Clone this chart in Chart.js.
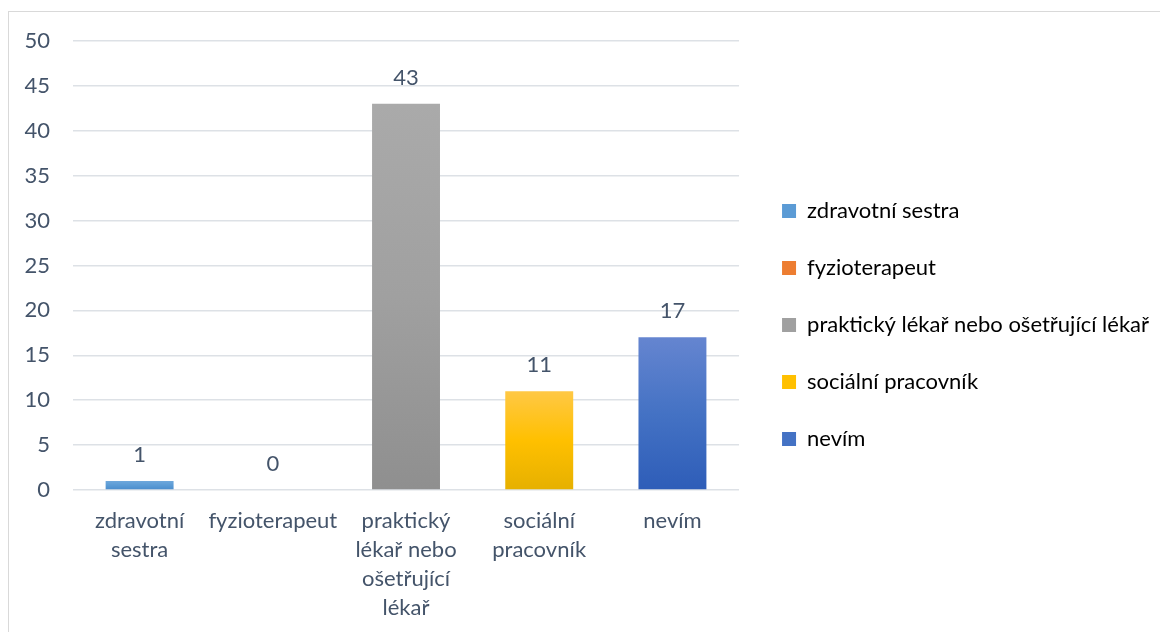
<!DOCTYPE html>
<html lang="cs">
<head>
<meta charset="UTF-8">
<title>Graf</title>
<script src="https://cdn.jsdelivr.net/npm/chart.js"></script>
<style>
    body { margin: 0; background: #fff; overflow: hidden; }
    .ramecek {
        position: absolute; left: 8px; top: 11px;
        width: 1160px; height: 630px;
        border: 1px solid #d9d9d9; box-sizing: border-box;
    }
    .platno { width: 1150px; height: 628px; }
    .platno canvas { display: block; }
</style>
</head>
<body>
<div class="ramecek">
    <div class="platno"><canvas id="graf"></canvas></div>
</div>
<script>
    const kategorie = ['zdravotní sestra', 'fyzioterapeut', 'praktický lékař nebo ošetřující lékař', 'sociální pracovník', 'nevím'];
    const popisky = [['zdravotní', 'sestra'], ['fyzioterapeut'], ['praktický', 'lékař nebo', 'ošetřující', 'lékař'], ['sociální', 'pracovník'], ['nevím']];
    const hodnoty = [1, 0, 43, 11, 17];
    const osaY = [0, 5, 10, 15, 20, 25, 30, 35, 40, 45, 50];

    // barvy: [nahore, stred, dole]
    const barvy = [
        ['#6fa8dc', '#5b9bd5', '#4a8ccc'],
        ['#f29a5c', '#ed7d31', '#d96a1f'],
        ['#aaaaaa', '#a0a0a0', '#8f8f8f'],
        ['#ffc845', '#ffc000', '#e6b000'],
        ['#6585d0', '#4472c4', '#2e5db8']
    ];
    const textBarva = '#44546a';
    const pismo = 'Lato, "DejaVu Sans", sans-serif';
    const mezeraLegendy = 8;

    function prechod(ctx) {
        const chart = ctx.chart;
        const b = barvy[ctx.dataIndex];
        if (!chart.chartArea || !chart.scales.y) return b[1];
        const y = chart.scales.y;
        const horni = y.getPixelForValue(hodnoty[ctx.dataIndex]);
        const dolni = y.getPixelForValue(0);
        if (dolni - horni < 1) return b[1];
        const g = chart.ctx.createLinearGradient(0, horni, 0, dolni);
        g.addColorStop(0, b[0]);
        g.addColorStop(0.5, b[1]);
        g.addColorStop(1, b[2]);
        return g;
    }

    const hodnotyNadSloupci = {
        id: 'hodnotyNadSloupci',
        afterDatasetsDraw(chart) {
            const c = chart.ctx;
            const meta = chart.getDatasetMeta(0);
            c.save();
            c.font = '22px ' + pismo;
            c.fillStyle = textBarva;
            c.textAlign = 'center';
            c.textBaseline = 'middle';
            meta.data.forEach((bar, i) => {
                c.fillText(String(hodnoty[i]), bar.x, bar.y - 26);
            });
            c.restore();
        }
    };

    // vetsi mezera mezi grafem a legendou, legenda o kousek vys
    const posunLegendy = {
        id: 'posunLegendy',
        afterInit(chart) {
            const legenda = chart.legend;
            const puvodniFit = legenda.fit;
            legenda.fit = function () {
                puvodniFit.call(this);
                this.width += mezeraLegendy;
            };
        },
        afterLayout(chart) {
            chart.legend.left += mezeraLegendy;
            chart.legend.top -= 2;
            chart.legend.bottom -= 2;
        }
    };

    new Chart(document.getElementById('graf'), {
        type: 'bar',
        data: {
            labels: popisky,
            datasets: [{
                data: hodnoty,
                backgroundColor: prechod,
                borderWidth: 0,
                barPercentage: 0.51,
                categoryPercentage: 1
            }]
        },
        options: {
            responsive: true,
            maintainAspectRatio: false,
            animation: false,
            layout: { padding: { left: 0, top: 11, right: 0, bottom: 9 } },
            plugins: {
                tooltip: { enabled: false },
                legend: {
                    position: 'right',
                    maxWidth: 600,
                    labels: {
                        color: textBarva,
                        font: { family: pismo, size: 22 },
                        boxWidth: 14,
                        boxHeight: 14,
                        padding: 35,
                        generateLabels() {
                            return kategorie.map((k, i) => ({
                                text: k,
                                fillStyle: barvy[i][1],
                                strokeStyle: barvy[i][1],
                                lineWidth: 0,
                                index: i
                            }));
                        }
                    }
                }
            },
            scales: {
                x: {
                    grid: { display: false },
                    border: { display: false },
                    ticks: {
                        color: textBarva,
                        font: { family: pismo, size: 22, lineHeight: 1.33 },
                        maxRotation: 0,
                        autoSkip: false,
                        padding: 8
                    }
                },
                y: {
                    min: 0,
                    max: 50,
                    afterBuildTicks(axis) {
                        axis.ticks = osaY.map(v => ({ value: v }));
                    },
                    afterFit(axis) {
                        axis.width = 64;
                        axis.paddingTop = 29;
                        axis.paddingBottom = 29;
                    },
                    grid: { color: '#dde1e6', lineWidth: 1.5, drawTicks: false },
                    border: { display: false },
                    ticks: {
                        color: textBarva,
                        font: { family: pismo, size: 22 },
                        padding: 23
                    }
                }
            }
        },
        plugins: [hodnotyNadSloupci, posunLegendy]
    });
</script>
</body>
</html>
